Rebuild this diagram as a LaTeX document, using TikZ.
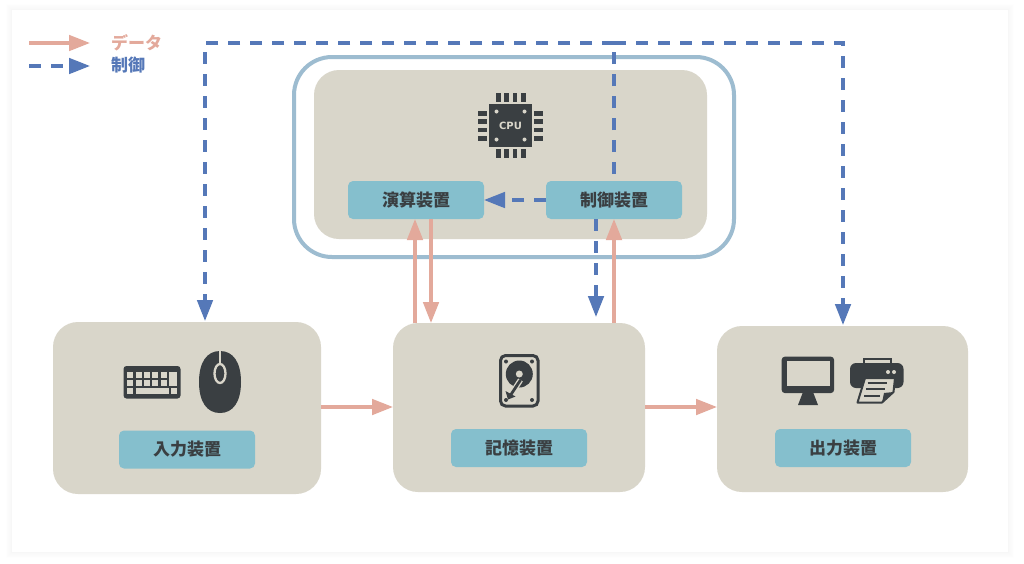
\documentclass[tikz,border=0pt]{standalone}
\usepackage{fontspec}
\usetikzlibrary{arrows.meta,calc}
\newfontfamily\jp{Noto Sans CJK JP}
\newfontfamily\cpufont{DejaVu Sans}
\definecolor{boxbg}{HTML}{D9D6CA}
\definecolor{lab}{HTML}{85BFCD}
\definecolor{ink}{HTML}{3A3F42}
\definecolor{frameblue}{HTML}{9DBCD0}
\definecolor{datac}{HTML}{E3A99B}
\definecolor{ctlc}{HTML}{5578B8}
\tikzset{
  unit/.style={fill=boxbg,rounded corners=25pt,inner sep=0pt,outer sep=0pt},
  labelbox/.style={fill=lab,rounded corners=5pt,minimum width=136pt,minimum height=38pt,inner sep=0pt,outer sep=0pt,text=ink,font=\jp\bfseries\fontsize{17}{17}\selectfont},
  dataline/.style={draw=datac,line width=3.3pt,-{Triangle[length=21pt,width=15.5pt]}},
  ctlline/.style={draw=ctlc,line width=3.3pt,dash pattern=on 12pt off 10pt},
  ctlarrow/.style={ctlline,-{Triangle[length=21pt,width=15.5pt]}},
  legendtext/.style={anchor=west,inner sep=0pt,font=\jp\bfseries\fontsize{17}{17}\selectfont},
  icon/.style={fill=ink,draw=none},
  iconhole/.style={fill=boxbg,draw=none}
}
\begin{document}
\begin{tikzpicture}[x=1pt,y=-1pt]
\useasboundingbox (0,0) rectangle (1024,563);
\fill[white] (0,0) rectangle (1024,563);
% card shadow
\foreach \d/\g in {6/0.5,5/1,4/1.5,3/2,2/2.5,1/3,0/3.5}{
  \fill[black!\g!white] (12-\d,10-\d) rectangle (1008+\d,552+\d);
}
\fill[white] (12,10) rectangle (1008,552);
% CPU frame and boxes
\node[draw=frameblue,line width=4pt,rounded corners=38pt,minimum width=440pt,minimum height=200pt,inner sep=0pt,outer sep=0pt] (frame) at (514,157) {};
\node[unit,minimum width=393pt,minimum height=169pt] (cpu) at (510.5,154.5) {};
\node[unit,minimum width=268pt,minimum height=172pt] (inp) at (187,408) {};
\node[unit,minimum width=252pt,minimum height=169pt] (mem) at (519,407.5) {};
\node[unit,minimum width=251pt,minimum height=166pt] (out) at (842.5,409) {};
% labels
\node[labelbox] (alu) at (416,200) {演算装置};
\node[labelbox] (ctrl) at (614,200) {制御装置};
\node[labelbox] (inl) at (187,449.5) {入力装置};
\node[labelbox] (meml) at (519,448) {記憶装置};
\node[labelbox] (outl) at (843,448) {出力装置};
% CPU icon
\fill[icon] (489,104) rectangle (532,147);
\foreach \p in {496,504.3,512.7,521}{
  \fill[icon] (\p,93) rectangle ++(4.5,9);
  \fill[icon] (\p,149) rectangle ++(4.5,9);
}
\foreach \p in {111,119.3,127.7,136}{
  \fill[icon] (478,\p) rectangle ++(9,4.5);
  \fill[icon] (534,\p) rectangle ++(9,4.5);
}
\foreach \a/\b in {496.5/111.5,524.5/111.5,496.5/139.5,524.5/139.5}{
  \fill[iconhole] (\a,\b) circle (2pt);
}
\node[text=boxbg,inner sep=0pt,font=\cpufont\bfseries\fontsize{10}{10}\selectfont] (cpulabel) at (510.5,125.5) {CPU};
% keyboard
\fill[icon,rounded corners=3pt] (123.5,366) rectangle (180.5,398.5);
\foreach \k in {0,1,2,3,4}{
  \fill[iconhole] (127.3+8.3*\k,372) rectangle ++(6,5.5);
  \fill[iconhole] (127.3+8.3*\k,380) rectangle ++(6,5.5);
}
\fill[iconhole] (168.7,372) rectangle (177,385.5);
\fill[iconhole] (127.3,388) rectangle (133.3,393.5);
\fill[iconhole] (135.7,388) rectangle (169,393.5);
\fill[iconhole] (171,388) rectangle (177,393.5);
% mouse
\fill[icon] (199,382) .. controls (199,362) and (207,351) .. (220,351) .. controls (233,351) and (241,362) .. (241,382) .. controls (241,402) and (233,413) .. (220,413) .. controls (207,413) and (199,402) .. (199,382) -- cycle;
\draw[boxbg,line width=2pt] (220,351) -- (220,364);
\draw[boxbg,line width=2.3pt] (220,373.5) ellipse (5.5pt and 9.5pt);
% hard disk
\draw[ink,line width=3pt,rounded corners=5pt] (500.5,355.5) rectangle (538,406);
\fill[icon] (519.3,374) circle (13.5pt);
\fill[iconhole] (519.3,374) circle (3.5pt);
\foreach \a in {506,532}{
  \fill[icon] (\a,361.5) circle (2pt);
  \fill[icon] (\a,400) circle (2pt);
}
\draw[boxbg,line width=5.5pt] (520.5,380) -- (510,396);
\draw[ink,line width=2.8pt] (520.5,380) -- (510,396);
\fill[icon] (505.5,391) -- (508,399.5) -- (515.5,396.5) -- cycle;
% monitor
\fill[icon,rounded corners=3pt] (781.7,356.7) rectangle (834,393);
\fill[iconhole] (786.7,360.7) rectangle (830,386);
\fill[icon] (803,392) -- (813,392) -- (818,405) -- (798,405) -- cycle;
% printer
\draw[ink,line width=2pt] (863.5,364) -- (863.5,358.5) -- (891,358.5) -- (891,364);
\fill[icon,rounded corners=6pt] (850,363) rectangle (903.5,388);
\fill[iconhole] (888,372) circle (2pt);
\fill[iconhole] (894,372) circle (2pt);
\draw[ink,line width=2pt,fill=boxbg,line join=round] (865,378) -- (895,378) -- (893.5,392) -- (882,402.5) -- (857.5,402.5) -- cycle;
\draw[ink,line width=1.8pt] (867.5,383) -- (887,383) (866,389) -- (885,389) (864,396) -- (880,396);
\fill[icon] (893.5,392) -- (884,393) -- (882,402.5) -- cycle;
% legend
\coordinate (dataA) at (29,43);
\coordinate (dataB) at (90,43);
\coordinate (ctlA) at (29,66);
\coordinate (ctlB) at (90,66);
\draw[dataline] (dataA) -- (dataB);
\draw[ctlarrow] (ctlA) -- (ctlB);
\node[legendtext,text=datac] (dataT) at (111,43) {データ};
\node[legendtext,text=ctlc] (ctlT) at (111,65.5) {制御};
% free bends of the control bus
\coordinate (busM) at (614,43);
\coordinate (busL) at (205,43);
\coordinate (busR) at (843,43);
% data connectors
\draw[dataline] ([xshift=-104pt]mem.north) -- ([xshift=-1pt]alu.south);
\draw[dataline] ([xshift=15pt]alu.south) -- ([xshift=-88pt]mem.north);
\draw[dataline] ([xshift=95pt]mem.north) -- (ctrl.south);
\draw[dataline] (inp.east |- 0,407) -- (mem.west |- 0,407);
\draw[dataline] (mem.east |- 0,407) -- (out.west |- 0,407);
% control connectors
\draw[ctlline] ([yshift=7pt]ctrl.north) -- (busM);
\draw[ctlarrow] (busM) -- (busL) -- ([xshift=18pt,yshift=1pt]inp.north);
\draw[ctlarrow] (busM) -- (busR) -- ([xshift=.5pt,yshift=1pt]out.north);
\draw[ctlarrow] ([xshift=-18pt]ctrl.south) -- ([xshift=77pt,yshift=6pt]mem.north);
\draw[ctlarrow] (ctrl.west) -- (alu.east);
\end{tikzpicture}
\end{document}
